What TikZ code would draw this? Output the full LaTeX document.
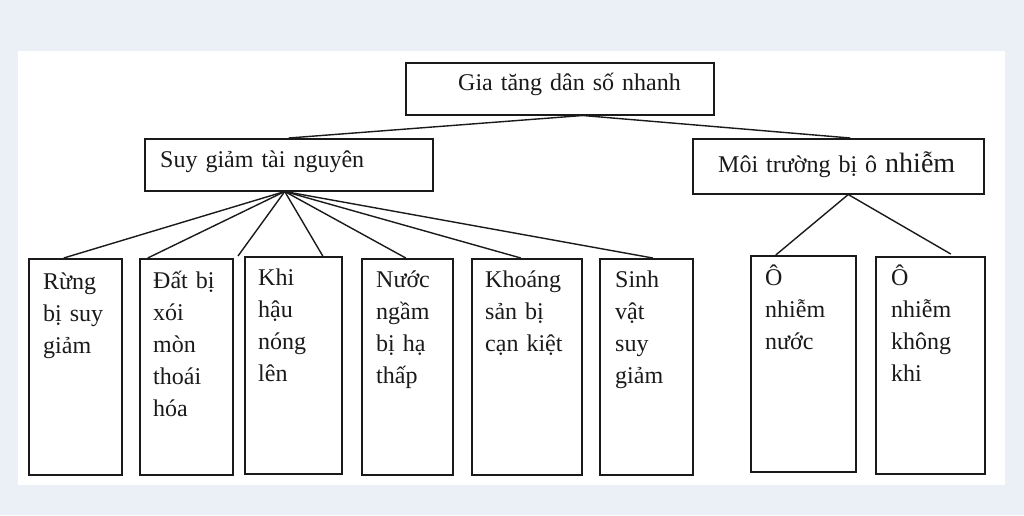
\documentclass[tikz,border=0pt]{standalone}
\usepackage{fontspec}
\setmainfont{Liberation Serif}
\definecolor{bgc}{HTML}{EBEFF6}
\definecolor{ink}{HTML}{1A1A1A}
\begin{document}
\begin{tikzpicture}[x=1pt,y=-1pt,
  box/.style={draw=ink, line width=1.5pt, inner sep=0pt, anchor=north west},
  lbl/.style={inner sep=0pt, anchor=base west, align=left, text width=120pt,
    font=\fontsize{24}{32}\selectfont, text=ink},
  conn/.style={draw=ink, line width=1.4pt}]
\useasboundingbox (0,0) rectangle (1024,515);
\fill[bgc] (0,0) rectangle (1024,515);
\fill[white] (18,51) rectangle (1005,485);
% upper boxes
\node[box, minimum width=308pt, minimum height=52pt] (gia) at (405,62) {};
\node[box, minimum width=288pt, minimum height=52pt] (suy) at (144,138) {};
\node[box, minimum width=291pt, minimum height=55pt] (moi) at (692,138) {};
\node[lbl, text width=300pt] (giat) at (458,90) {Gia tăng dân số nhanh};
\node[lbl, text width=300pt] (suyt) at (160,167) {Suy giảm tài nguyên};
\node[lbl, text width=300pt] (moit) at (718,172) {Môi trường bị ô {\fontsize{28}{32}\selectfont nhiễm}};
% lower boxes
\node[box, minimum width=93pt, minimum height=216pt] (rung) at (28,258) {};
\node[box, minimum width=93pt, minimum height=216pt] (dat) at (139,258) {};
\node[box, minimum width=97pt, minimum height=217pt] (khi) at (244,256) {};
\node[box, minimum width=91pt, minimum height=216pt] (nuoc) at (361,258) {};
\node[box, minimum width=110pt, minimum height=216pt] (khoang) at (471,258) {};
\node[box, minimum width=93pt, minimum height=216pt] (sinh) at (599,258) {};
\node[box, minimum width=105pt, minimum height=216pt] (onuoc) at (750,255) {};
\node[box, minimum width=109pt, minimum height=217pt] (okk) at (875,256) {};
\node[lbl] (rungt) at (43,289) {Rừng\\bị suy\\giảm};
\node[lbl] (datt) at (153,288) {Đất bị\\xói\\mòn\\thoái\\hóa};
\node[lbl] (khit) at (258,285) {Khi\\hậu\\nóng\\lên};
\node[lbl] (nuoct) at (376,287) {Nước\\ngầm\\bị hạ\\thấp};
\node[lbl] (khoangt) at (485,287) {Khoáng\\sản bị\\cạn kiệt};
\node[lbl] (sinht) at (615,287) {Sinh\\vật\\suy\\giảm};
\node[lbl] (onuoct) at (765,285) {Ô\\nhiễm\\nước};
\node[lbl] (okkt) at (891,285) {Ô\\nhiễm\\không\\khi};
% connectors
\coordinate (gapex) at ([xshift=23pt]gia.south);
\coordinate (sapex) at ([xshift=-4pt]suy.south);
\coordinate (mapex) at ([xshift=10pt]moi.south);
\draw[conn] (gapex) -- (suy.north);
\draw[conn] (gapex) -- ([xshift=12pt]moi.north);
\draw[conn] (sapex) -- ([xshift=-11.5pt]rung.north);
\draw[conn] (sapex) -- ([xshift=-38.5pt]dat.north);
\draw[conn] (sapex) -- ([xshift=-6pt]khi.north west);
\draw[conn] (sapex) -- ([xshift=29.5pt]khi.north);
\draw[conn] (sapex) -- ([xshift=-1.5pt]nuoc.north);
\draw[conn] (sapex) -- ([xshift=-6pt]khoang.north);
\draw[conn] (sapex) -- ([xshift=6.5pt]sinh.north);
\draw[conn] (mapex) -- ([xshift=-27.5pt]onuoc.north);
\draw[conn] (mapex) -- ([xshift=20.5pt,yshift=2pt]okk.north);
\end{tikzpicture}
\end{document}
